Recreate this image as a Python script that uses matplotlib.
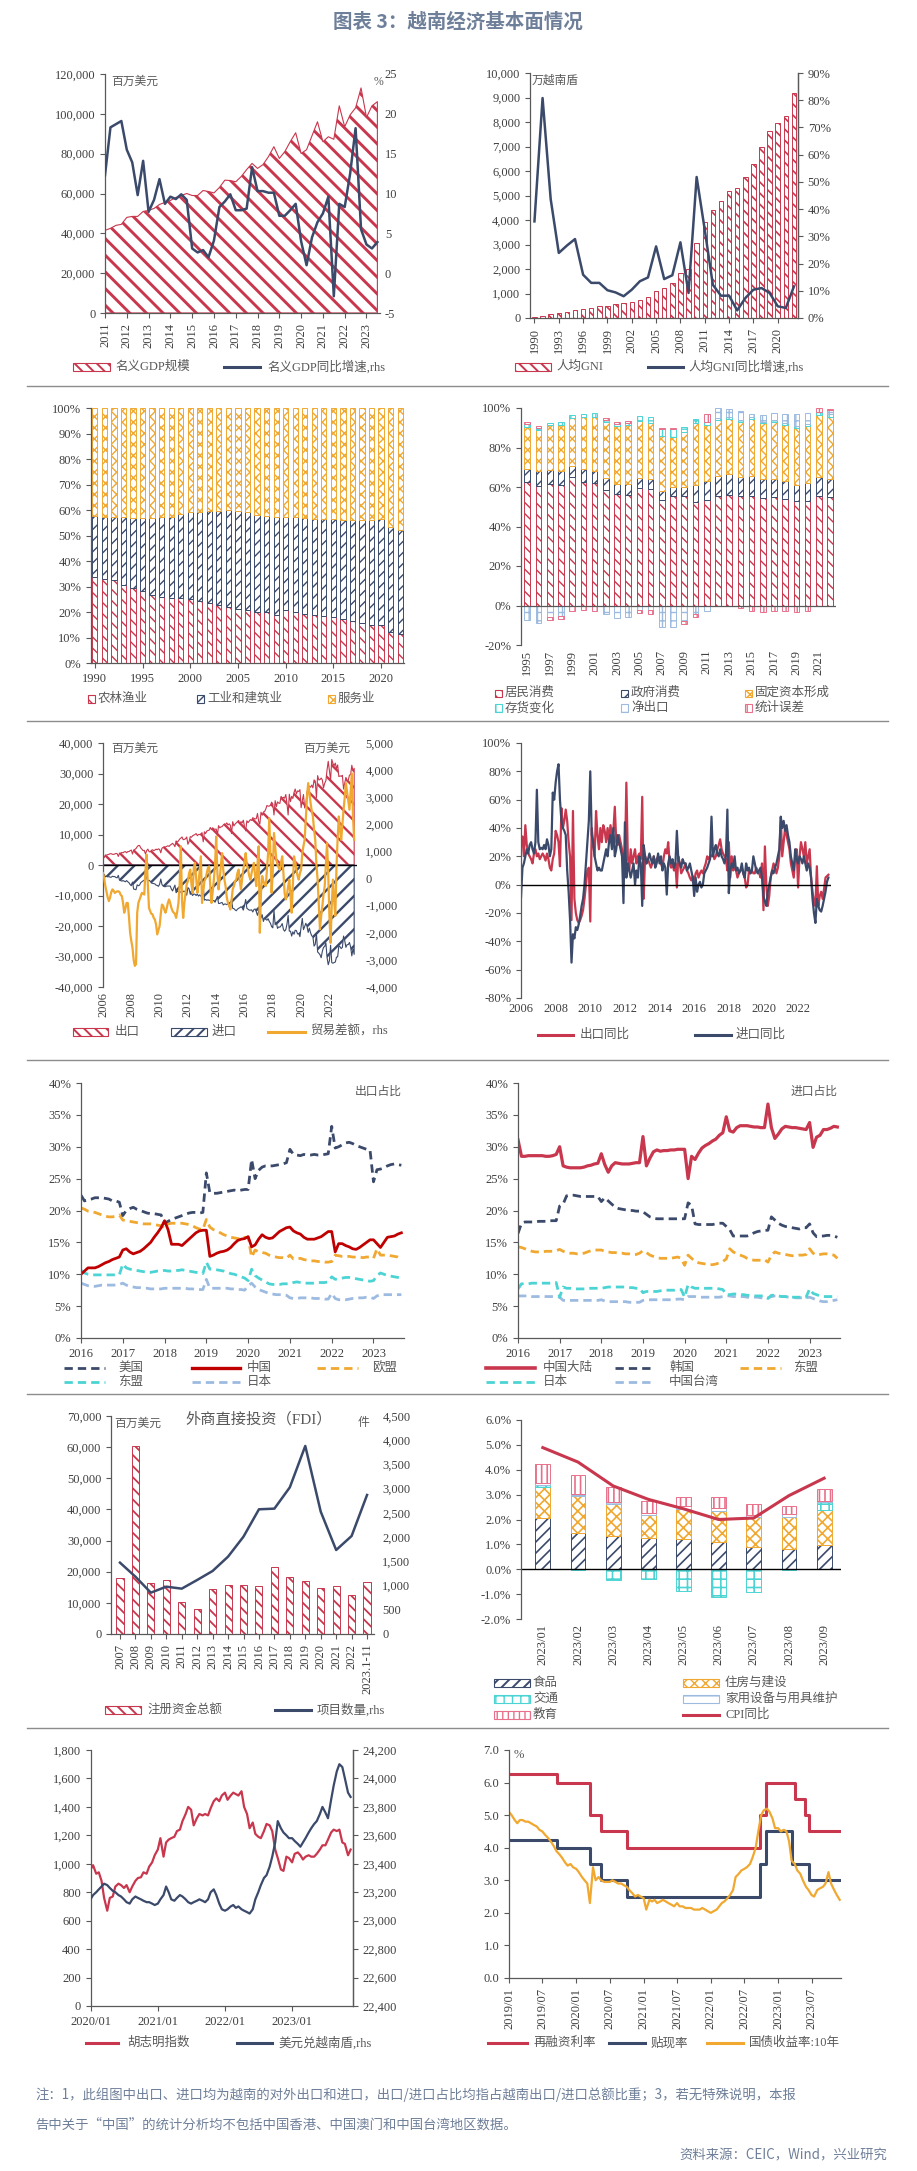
import numpy as np
import pandas as pd
import matplotlib
matplotlib.use('Agg')
import matplotlib.pyplot as plt
import matplotlib.dates as mdates
from matplotlib.patches import Rectangle
from matplotlib.lines import Line2D
from matplotlib.ticker import FuncFormatter

plt.rcParams['font.family'] = ['Liberation Serif', 'Noto Sans CJK SC']
plt.rcParams['axes.unicode_minus'] = False
plt.rcParams['hatch.linewidth'] = 1.1

# ---------------- data ----------------
# nominal GDP (million USD), quarterly 2011Q1-2023Q3
gdp_q = [41500, 42500, 44000, 44500,
         48000, 48500, 48500, 51000,
         51500, 52500, 54500, 55500,
         56500, 58000, 59000, 60000,
         59000, 59000, 61500, 61000,
         60300, 63000, 66700, 66500,
         65900, 68500, 72000, 75100,
         72600, 74500, 78500, 83500,
         77600, 81000, 86000, 90500,
         80100, 82000, 89000, 96000,
         86000, 88500, 87200, 104000,
         93500, 99500, 103000, 113000,
         98200, 104000, 106100]
gdp_yoy = [12.3, 18.3, 18.7, 19.1,
           15.5, 13.9, 9.8, 14.1,
           7.7, 9.2, 11.8, 8.7,
           9.6, 9.3, 9.9, 9.2,
           3.1, 2.6, 2.9, 2.0,
           4.1, 8.3, 9.0, 9.9,
           7.9, 7.9, 8.1, 13.3,
           10.3, 10.3, 10.1, 10.1,
           7.2, 7.2, 7.9, 8.7,
           4.0, 1.0, 4.5, 6.4,
           7.5, 9.6, -2.9, 8.7,
           8.3, 12.5, 18.2, 5.5,
           3.6, 3.1, 3.9]

# GNI per capita 1990-2022
gni = [45, 90, 150, 200, 250, 330, 370, 420, 470, 510,
       560, 600, 650, 740, 870, 1100, 1240, 1410, 1820, 1990,
       3050, 3920, 4420, 4790, 5200, 5320, 5750, 6290, 7000, 7650,
       7970, 8240, 9200]
gni_yoy = [35.5, 80.8, 43.7, 23.9, 26.6, 29.0, 15.9, 12.9, 12.9, 10.2,
           9.4, 8.0, 10.4, 13.5, 14.9, 26.3, 14.3, 15.7, 27.8, 9.2,
           51.8, 32.4, 12.2, 8.2, 8.2, 2.8, 7.3, 10.4, 11.0, 9.2,
           4.3, 3.7, 11.6]

# GDP structure 1990-2022 (%)
agri = [33.7, 32.9, 32.7, 30.7, 29.4, 28.1, 26.8, 25.9, 25.5, 25.5,
        25.1, 24.3, 23.5, 22.9, 22.0, 21.2, 20.7, 20.0, 20.0, 19.0,
        20.7, 20.0, 19.3, 18.9, 18.6, 18.0, 17.3, 16.3, 15.7, 15.0,
        15.0, 12.2, 11.5]
industry = [24.1, 24.4, 24.6, 26.6, 27.3, 28.6, 29.9, 31.4, 31.8, 33.1,
            34.0, 34.8, 36.0, 36.6, 37.9, 38.3, 38.4, 38.2, 37.8, 38.3,
            36.6, 37.3, 37.4, 37.4, 37.7, 38.3, 38.6, 39.6, 40.2, 40.9,
            41.3, 41.1, 40.5]
services = [42.2, 42.7, 42.7, 42.7, 43.3, 43.3, 43.3, 42.7, 42.7, 41.4,
            40.9, 40.9, 40.5, 40.5, 40.1, 40.5, 40.9, 41.8, 42.2, 42.7,
            42.7, 42.7, 43.3, 43.7, 43.7, 43.7, 44.1, 44.1, 44.1, 44.1,
            43.7, 46.7, 48.0]

# GDP by expenditure 1995-2022 (%)
hh_cons = [62.4, 60.7, 61.7, 61.2, 64.9, 62.7, 62.1, 58.7, 56.7, 56.2,
           59.5, 59.0, 53.6, 55.6, 55.6, 52.3, 53.3, 55.3, 56.2, 55.6,
           55.6, 54.5, 54.8, 54.0, 52.8, 52.8, 55.6, 55.0]
gov_cons = [6.7, 7.3, 6.8, 6.8, 5.9, 6.4, 5.9, 5.9, 5.0, 5.5,
            5.1, 5.1, 4.2, 4.4, 4.4, 8.9, 9.6, 10.5, 10.6, 9.5,
            10.2, 9.6, 9.3, 8.9, 8.4, 9.3, 9.5, 9.1]
gfcf = [21.1, 21.0, 23.1, 23.6, 24.1, 26.3, 27.4, 28.1, 29.0, 29.9,
        28.7, 28.3, 27.9, 25.2, 27.7, 31.2, 28.7, 28.0, 27.6, 27.6,
        28.6, 28.3, 28.6, 28.7, 28.7, 28.6, 31.5, 31.3]
inventory = [1.5, 1.0, 1.0, 1.5, 1.5, 1.5, 2.0, 1.0, 1.0, 1.0,
             2.5, 3.0, 3.5, 4.0, 2.5, 2.0, 1.5, 1.0, 1.0, 1.0,
             1.0, 0.5, 1.0, 1.0, 1.0, 1.0, 1.5, 1.5]
net_exp = [-7.3, -9.0, -6.0, -5.5, 0, 0, 0, -4.5, -6.5, -6.0,
           -2.5, -2.5, -11.0, -11.0, -8.0, -4.5, -3.0, 5.0, 4.0, 5.0,
           1.5, 3.5, 4.0, 4.5, 6.0, 6.0, 0, 2.0]
stat_err = [1.3, 1.0, -1.5, -1.5, -3.0, -2.5, -3.0, 1.0, 1.0, 0.8,
            -1.5, -2.0, 0.7, 0.7, -1.5, -1.5, 4.0, -0.5, -0.3, -1.5,
            -3.0, -3.5, -3.0, -3.0, -3.5, -3.0, 2.0, 0.8]

# monthly trade, 2006-01 .. 2023-10 (million USD)
exports = [3100, 2400, 3300, 3200, 3400, 3500, 3700, 3700, 3500, 3500, 3600, 3800,
           3700, 2800, 3900, 3900, 4100, 4000, 4300, 4400, 4000, 4400, 4400, 4700,
           4900, 3600, 4900, 5100, 5400, 6000, 6400, 6400, 5600, 5200, 4700, 4800,
           3600, 4700, 5200, 4400, 4300, 4800, 5000, 4700, 4900, 5200, 5000, 5300,
           5100, 4000, 5500, 5800, 6000, 5900, 6100, 6300, 6100, 6500, 6800, 7100,
           6700, 6000, 7900, 7500, 7900, 8500, 8800, 9200, 8300, 8400, 8600, 9200,
           6800, 7700, 9300, 9100, 9600, 9800, 10000, 10300, 9600, 10000, 10000, 10200,
           10600, 7600, 10900, 10300, 11100, 11300, 11400, 12300, 11600, 12200, 11800, 11700,
           11800, 9800, 12900, 12200, 12500, 12600, 13100, 13500, 13300, 13800, 13100, 13500,
           13000, 10300, 14200, 12800, 13400, 13800, 14200, 14600, 13600, 14200, 13800, 14700,
           12600, 11200, 14500, 13900, 14400, 14900, 14600, 15500, 15300, 15100, 15200, 16900,
           14300, 13400, 17300, 16300, 17400, 17500, 18300, 19500, 19300, 19300, 19600, 20600,
           20000, 16400, 21100, 19100, 20700, 20300, 20200, 22500, 21900, 22200, 21900, 23100,
           20200, 16400, 23200, 20800, 22500, 21800, 23800, 24900, 23300, 24300, 24100, 24700,
           18800, 21100, 23100, 18700, 20100, 23800, 25900, 25800, 25500, 26200, 25300, 27900,
           27500, 22100, 29300, 27900, 28000, 28500, 27900, 25300, 26800, 27600, 31200, 34000,
           30900, 27900, 34600, 33300, 32600, 33400, 31600, 32800, 29000, 29200, 29100, 29400,
           24900, 26900, 28700, 27800, 27800, 29500, 29600, 32700, 30800, 31700]
imports = [-3200, -3100, -3900, -3700, -3900, -3800, -4000, -4000, -3700, -3800, -3800, -4100,
           -4200, -3400, -5000, -5100, -5300, -5100, -5300, -5500, -5100, -5500, -5800, -6400,
           -6800, -5600, -7900, -8000, -8100, -6500, -6800, -6600, -5800, -5500, -5200, -5000,
           -3300, -4200, -5300, -5000, -5300, -5900, -6000, -6100, -6200, -6600, -6700, -7000,
           -6300, -4600, -6400, -6900, -7100, -7100, -6900, -6900, -6900, -6900, -7900, -8500,
           -7500, -6600, -9100, -8500, -8900, -8900, -8800, -9400, -8600, -8600, -8800, -9900,
           -7400, -7800, -9600, -9400, -10000, -9500, -9600, -10000, -9500, -10200, -9800, -10200,
           -10600, -7500, -11500, -11300, -11600, -11400, -11600, -11500, -11600, -11700, -11700, -12200,
           -11400, -10300, -12600, -12600, -12400, -12300, -13100, -12800, -12800, -13000, -12700, -13600,
           -13800, -11200, -14200, -14300, -14700, -15000, -14500, -14200, -14000, -13700, -14000, -14800,
           -13300, -11300, -14200, -14500, -14800, -14800, -14700, -15400, -14600, -14400, -15300, -16500,
           -15200, -13200, -17400, -16300, -18500, -17500, -17800, -18100, -17600, -18500, -19100, -20200,
           -20600, -14900, -19600, -18800, -20800, -20300, -20400, -19900, -19200, -21100, -21700, -21200,
           -19400, -16500, -21700, -21700, -23300, -21900, -22700, -21400, -21500, -22600, -22500, -23500,
           -20300, -17500, -21200, -20200, -19100, -20100, -22100, -20700, -22200, -23200, -23600, -26600,
           -26000, -22400, -28500, -28900, -29400, -30400, -28300, -27000, -26700, -25500, -30300, -32700,
           -31400, -26300, -32000, -32200, -32000, -31800, -30200, -30100, -26500, -26800, -27400, -27000,
           -23300, -24800, -27000, -26100, -26100, -25400, -26900, -29800, -27500, -29300]
balance = [200, 0, -280, -500, -700, -830, -700, -500, -400, -450, -530, -500,
           -470, -470, -500, -600, -650, -900, -1260, -1100, -900, -900, -1400, -2000,
           -2300, -2550, -3000, -3220, -3160, -1260, -900, -770, -650, -530, -560, -590,
           300, 880, -200, -1080, -1200, -1300, -1320, -1450, -1510, -1700, -2060, -1900,
           -1750, -1300, -960, -1000, -1150, -1260, -1100, -900, -770, -900, -1080, -1200,
           -1260, -1300, -1450, -1200, -900, -200, 1190, -800, -1450, -900, -530, -200,
           -100, 200, 330, -200, -530, 400, 580, 0, -530, -200, 300, 820,
           -900, -500, -100, 0, 200, 400, 450, -300, -900, -500, -40, 500,
           1550, 200, -400, 0, 500, 940, 300, -40, -300, -700, -900, -1000,
           -1140, -800, -400, -280, -100, -40, 200, 330, -100, -400, 0, 330,
           600, 940, 500, 330, 100, -40, 200, 400, 580, 100, -280, 500,
           1190, -2000, -500, 90, -100, -200, -280, 300, 940, 2230, 800, -530,
           300, 1680, 1200, 700, 500, 400, 330, 600, 820, 200, -530, -770,
           -600, -300, -40, -600, -1260, -200, 820, 600, 330, 100, -40, 200,
           330, 940, 1200, 1430, 2200, 3000, 3520, 3150, 2800, 2500, 2290, 1800,
           1430, 500, -40, -1000, -1870, -1400, -1020, -600, -280, 500, 1310, 200,
           -1380, -2370, -1000, -40, -800, -1380, 450, 1500, 2290, 1800, 1430, 2000,
           2540, 3000, 3520, 3200, 2900, 2540, 3200, 3880, 2290, 1430]
exp_yoy = [30, 34, 20, 42, 28, 22, 20, 18, 15, 22, 25, 20,
           22, 18, 20, 22, 20, 17, 22, 18, 12, 10, 18, 22,
           38, 35, 30, 13, 54, 40, 45, 53, 45, 30, 20, -25,
           52, -10, -20, -25, -27, -25, -22, -18, -10, 0, 10, 12,
           -26, 40, 30, 20, 52, 35, 25, 40, 30, 42, 38, 30,
           40, 30, 42, 35, 38, 55, 30, 28, 35, 30, 25, 20,
           15, 72, 20, 10, 25, 15, 20, 25, 15, 20, 22, 18,
           62, -10, 20, 15, 18, 15, 12, 15, 20, 14, 18, 20,
           18, 15, 12, 20, 25, 22, 30, 15, 12, 15, 10, 15,
           -2, 20, 15, 8, 10, 12, 15, 10, 8, 5, 3, 6,
           2, 8, 10, 5, 8, 10, 8, 12, 15, 20, 18, 20,
           20, 22, 18, 20, 25, 28, 32, 25, 22, 20, 18, 10,
           30, 5, 20, 10, 12, 10, 5, 8, 10, 12, 8, 5,
           -2, 0, 10, 8, 10, 8, 8, 12, 10, 8, 5, 15,
           -18, 27, 0, -15, -8, 5, 10, 15, 12, 8, 12, 20,
           47, 20, 30, 40, 35, 30, 25, 15, 10, 5, 20, 25,
           -2, 20, 30, 25, 20, 30, 15, 20, 25, 5, -5, -12,
           -15, 13, -15, -8, -5, -10, -3, 5, 6, 7]
imp_yoy = [-9, 12, 15, 20, 25, 22, 28, 30, 25, 22, 30, 67,
           30, 25, 26, 25, 28, 25, 32, 28, 20, 25, 65, 60,
           72, 80, 85, 60, 45, 40, 38, 35, 10, -5, -25, -55,
           -35, -38, -30, -32, -28, -22, -15, -10, 0, 15, 30, 45,
           80, 35, 30, 20, 15, 10, 12, 10, 10, 15, 20, 25,
           20, 30, 35, 25, 40, 20, 25, 35, 30, 25, 20, -13,
           44, 5, 15, 10, 5, 10, 15, 0, 10, 5, 20, 15,
           -15, 28, 20, 15, 18, 22, 18, 15, 20, 12, 15, 22,
           15, 20, 10, 15, 12, -7, 15, 20, 15, 18, 12, 15,
           38, 18, 15, 12, 18, 15, 15, 10, 12, 15, 10, 5,
           -8, 5, -5, 0, 2, -2, 0, 8, 10, 12, 15, 18,
           48, 20, 25, 28, 22, 20, 25, 20, 18, 15, 20, 53,
           -6, 10, 15, 12, 20, 10, 12, 8, 10, 15, 8, 5,
           15, 10, 12, 8, 10, 20, 15, 10, 8, 10, 12, 5,
           -8, -12, -15, -5, 0, 5, 10, 8, 12, 15, 20, 25,
           48, 40, 45, 38, 42, 35, 30, 20, 15, 10, 25, 18,
           15, 20, 18, 15, 20, 15, 10, 15, 12, 5, -10, -20,
           -27, -10, -15, -18, -19, -15, -10, -5, 2, 5]

# export share by destination, monthly 2016-01 .. 2023-09 (%)
exp_us = [22.4, 21.5, 21.7, 21.8, 22.0, 22.0, 22.0, 21.9, 21.8, 21.5, 21.5, 21.3,
          19.2, 20.0, 20.3, 20.5, 20.2, 20.0, 19.8, 19.6, 19.5, 19.5, 19.4, 19.3,
          18.0, 18.3, 18.6, 18.8, 19.0, 19.2, 19.4, 19.6, 19.7, 19.7, 19.6, 19.7,
          25.9, 22.8, 22.7, 22.7, 22.8, 22.9, 23.0, 23.1, 23.2, 23.1, 23.2, 23.3,
          23.3, 28.0, 25.0, 26.3, 26.8, 27.0, 27.0, 27.0, 27.1, 27.2, 27.3, 27.5,
          29.6, 28.8, 28.7, 28.6, 28.8, 28.7, 28.7, 28.8, 28.7, 28.7, 28.8, 28.9,
          33.2, 29.8, 30.0, 30.3, 30.6, 30.7, 30.5, 30.2, 30.0, 29.8, 29.6, 29.5,
          24.5, 26.4, 26.5, 26.7, 27.0, 27.2, 27.3, 27.2, 27.1]
exp_cn = [10.0, 10.5, 11.0, 11.0, 11.0, 11.2, 11.5, 11.8, 12.0, 12.3, 12.5, 12.7,
          13.8, 14.0, 13.5, 13.2, 13.4, 13.6, 14.0, 14.5, 15.0, 15.8, 16.5, 17.3,
          18.4, 17.0, 14.7, 14.7, 14.7, 14.5, 15.0, 15.5, 16.0, 16.5, 16.8, 16.9,
          16.9, 12.8, 13.0, 13.3, 13.5, 13.6, 13.8, 14.2, 14.8, 15.3, 15.5, 15.6,
          15.9, 14.3, 14.6, 15.5, 16.2, 15.8, 15.6, 15.7, 16.2, 16.7, 17.0, 17.3,
          17.4, 16.8, 16.5, 16.3, 15.8, 15.5, 15.5, 15.5, 15.7, 15.9, 16.3, 16.7,
          16.7, 13.5, 14.8, 14.8, 14.5, 14.3, 14.0, 13.9, 14.2, 14.6, 15.0, 15.4,
          15.4, 14.8, 14.2, 15.0, 15.8, 15.9, 16.0, 16.3, 16.5]
exp_eu = [20.4, 20.2, 19.9, 19.8, 19.7, 19.5, 19.3, 19.1, 19.0, 19.0, 19.1, 19.3,
          18.5, 18.4, 18.3, 18.2, 18.1, 18.0, 17.9, 17.9, 17.9, 17.8, 17.7, 17.6,
          17.3, 17.9, 18.0, 18.0, 18.0, 18.0, 17.9, 17.8, 17.6, 17.3, 17.1, 17.0,
          18.6, 17.4, 17.0, 16.8, 16.5, 16.2, 16.0, 15.8, 15.7, 15.6, 15.5, 15.8,
          15.8, 12.7, 13.8, 13.5, 13.4, 13.3, 13.0, 12.8, 12.7, 12.6, 12.6, 12.5,
          13.0, 12.4, 12.4, 12.5, 12.3, 12.2, 12.1, 12.1, 12.0, 12.0, 11.9, 11.9,
          12.0, 13.0, 12.9, 12.8, 12.8, 12.8, 12.7, 12.7, 12.7, 12.6, 12.7, 12.7,
          12.5, 14.0, 13.0, 13.0, 13.0, 12.9, 12.8, 12.7, 12.4]
exp_asean = [10.6, 10.2, 10.0, 9.9, 9.9, 9.9, 9.9, 9.9, 9.9, 9.9, 9.9, 9.9,
             11.6, 11.0, 10.8, 10.7, 10.6, 10.5, 10.4, 10.3, 10.3, 10.4, 10.5, 10.5,
             10.6, 10.5, 10.5, 10.6, 10.6, 10.7, 10.6, 10.5, 10.4, 10.3, 10.2, 10.1,
             11.9, 10.8, 10.8, 10.7, 10.6, 10.5, 10.3, 10.1, 10.0, 9.8, 9.6, 9.4,
             9.0, 10.8, 9.8, 9.4, 9.1, 8.8, 8.5, 8.4, 8.4, 8.4, 8.5, 8.5,
             8.5, 8.7, 8.8, 8.7, 8.6, 8.6, 8.6, 8.6, 8.7, 8.7, 8.7, 8.8,
             9.6, 9.2, 9.3, 9.4, 9.5, 9.5, 9.4, 9.3, 9.2, 9.1, 9.0, 8.9,
             9.0, 9.8, 10.2, 10.0, 9.8, 9.7, 9.6, 9.5, 9.4]
exp_jp = [8.6, 8.4, 8.2, 8.1, 8.1, 8.2, 8.3, 8.3, 8.3, 8.3, 8.3, 8.4,
          8.6, 8.3, 8.1, 8.0, 7.9, 7.9, 7.8, 7.8, 7.7, 7.7, 7.7, 7.7,
          7.8, 7.8, 7.8, 7.8, 7.8, 7.8, 7.8, 7.7, 7.7, 7.6, 7.6, 7.6,
          9.2, 7.8, 7.8, 7.8, 7.8, 7.8, 7.8, 7.7, 7.7, 7.6, 7.6, 7.5,
          8.2, 8.6, 8.0, 7.6, 7.4, 7.2, 7.0, 6.9, 6.8, 6.8, 6.8, 6.7,
          6.3, 6.2, 6.2, 6.3, 6.3, 6.3, 6.3, 6.2, 6.2, 6.2, 6.1, 6.1,
          7.0, 6.2, 6.0, 6.0, 6.0, 6.1, 6.2, 6.2, 6.3, 6.3, 6.4, 6.4,
          6.2, 6.6, 6.8, 6.8, 6.8, 6.8, 6.8, 6.8, 6.8]

# import share by origin, monthly 2016-01 .. 2023-09 (%)
imp_cn = [31.1, 28.5, 28.5, 28.6, 28.6, 28.6, 28.6, 28.6, 28.5, 28.5, 28.6, 28.8,
          30.0, 27.0, 26.8, 26.7, 26.7, 26.7, 26.7, 26.8, 27.0, 27.1, 27.3, 27.4,
          28.9, 27.2, 26.0, 27.0, 27.5, 27.4, 27.3, 27.3, 27.3, 27.4, 27.5, 27.5,
          31.6, 27.0, 28.2, 29.2, 29.5, 29.3, 29.4, 29.4, 29.5, 29.5, 29.6, 29.6,
          29.6, 25.0, 28.5, 28.0, 29.0, 29.8, 30.2, 30.5, 30.9, 31.2, 31.8, 32.2,
          34.7, 32.5, 32.3, 33.0, 33.3, 33.3, 33.3, 33.2, 33.1, 33.1, 33.0, 33.0,
          36.7, 33.0, 31.3, 32.0, 32.8, 33.2, 33.1, 33.0, 33.0, 32.9, 32.8, 32.7,
          33.8, 29.9, 31.5, 31.8, 32.7, 32.7, 32.9, 33.2, 33.1]
imp_kr = [16.4, 18.0, 18.2, 18.2, 18.2, 18.2, 18.3, 18.3, 18.3, 18.4, 18.4, 18.4,
          20.7, 21.0, 22.3, 22.4, 22.4, 22.3, 22.2, 22.2, 22.2, 22.2, 22.2, 22.2,
          21.4, 22.0, 21.5, 21.0, 20.5, 20.3, 20.2, 20.1, 20.0, 20.0, 19.9, 19.9,
          19.8, 19.4, 19.0, 18.8, 18.7, 18.7, 18.7, 18.7, 18.7, 18.7, 18.7, 18.7,
          18.7, 21.2, 20.8, 17.9, 17.8, 17.8, 17.8, 17.8, 17.8, 17.9, 18.0, 18.0,
          17.5, 17.0, 16.0, 16.0, 16.0, 16.0, 16.0, 16.2, 16.5, 16.7, 16.8, 16.9,
          16.9, 19.0, 18.5, 18.0, 17.7, 17.5, 17.4, 17.3, 17.2, 17.1, 17.3, 17.3,
          17.9, 16.5, 15.9, 16.0, 16.0, 16.1, 16.1, 16.0, 15.8]
imp_asean = [14.3, 14.2, 14.0, 13.8, 13.6, 13.5, 13.5, 13.5, 13.6, 13.6, 13.6, 13.7,
             13.9, 13.6, 13.4, 13.3, 13.3, 13.2, 13.2, 13.3, 13.5, 13.7, 13.8, 13.8,
             13.8, 13.6, 13.5, 13.4, 13.4, 13.3, 13.3, 13.2, 13.2, 13.1, 13.1, 13.3,
             13.7, 13.4, 13.0, 12.8, 12.6, 12.5, 12.5, 12.5, 12.5, 12.6, 12.7, 12.5,
             11.4, 13.0, 12.5, 12.0, 11.8, 11.7, 11.6, 11.5, 11.5, 11.6, 11.8, 12.0,
             12.4, 14.0, 13.5, 13.2, 13.0, 12.8, 12.5, 12.3, 12.2, 12.2, 12.2, 12.3,
             11.9, 13.0, 13.5, 13.3, 13.2, 13.1, 13.0, 12.9, 12.9, 13.0, 13.0, 13.1,
             14.0, 13.3, 13.0, 13.1, 13.2, 13.2, 13.1, 13.0, 12.5]
imp_jp = [7.7, 8.5, 8.5, 8.5, 8.6, 8.6, 8.6, 8.6, 8.6, 8.6, 8.7, 8.7,
          6.4, 8.0, 7.8, 7.8, 7.7, 7.7, 7.7, 7.7, 7.7, 7.8, 7.8, 7.8,
          7.8, 7.9, 8.0, 8.0, 8.0, 8.0, 8.0, 8.0, 7.9, 7.9, 7.8, 7.8,
          7.1, 7.3, 7.3, 7.3, 7.3, 7.4, 7.5, 7.5, 7.5, 7.5, 7.6, 7.6,
          6.4, 8.4, 8.0, 7.8, 7.8, 7.8, 7.8, 7.8, 7.8, 7.8, 7.7, 7.6,
          6.8, 6.8, 6.9, 6.9, 6.8, 6.8, 6.7, 6.7, 6.6, 6.6, 6.6, 6.6,
          6.2, 6.7, 6.7, 6.6, 6.5, 6.5, 6.4, 6.4, 6.4, 6.4, 6.4, 6.4,
          7.7, 7.0, 6.8, 6.6, 6.5, 6.5, 6.5, 6.5, 6.5]
imp_tw = [6.6, 6.6, 6.6, 6.6, 6.5, 6.5, 6.5, 6.5, 6.5, 6.5, 6.5, 6.5,
          6.4, 5.9, 5.9, 5.9, 5.9, 5.9, 5.9, 5.9, 5.9, 5.9, 5.9, 5.9,
          6.0, 5.8, 5.7, 5.7, 5.7, 5.7, 5.7, 5.7, 5.6, 5.6, 5.6, 5.6,
          5.9, 6.0, 6.0, 6.0, 6.0, 6.0, 6.0, 6.0, 6.0, 6.0, 6.1, 6.1,
          6.0, 6.5, 6.5, 6.5, 6.4, 6.4, 6.4, 6.4, 6.4, 6.4, 6.4, 6.5,
          6.6, 6.6, 6.5, 6.5, 6.5, 6.5, 6.4, 6.4, 6.4, 6.4, 6.3, 6.3,
          6.3, 6.5, 6.6, 6.6, 6.5, 6.5, 6.4, 6.4, 6.3, 6.3, 6.3, 6.3,
          6.4, 6.2, 6.0, 5.8, 5.7, 5.7, 5.8, 5.9, 6.0]

# FDI
fdi_labels = ['2007', '2008', '2009', '2010', '2011', '2012', '2013', '2014', '2015',
              '2016', '2017', '2018', '2019', '2020', '2021', '2022', '2023.1-11']
fdi_capital = [17900, 60400, 16500, 17200, 10200, 7900, 14300, 15800, 15800,
               15400, 21600, 18400, 16900, 14700, 15400, 12600, 16600]
fdi_projects = [1473, 1184, 853, 977, 936, 1115, 1301, 1597, 2010,
                2574, 2588, 3028, 3882, 2526, 1734, 2023, 2870]

# CPI contributions 2023/01-2023/09 (ppt)
cpi_months = ['2023/01', '2023/02', '2023/03', '2023/04', '2023/05',
              '2023/06', '2023/07', '2023/08', '2023/09']
cpi_food = [2.05, 1.47, 1.34, 1.24, 1.20, 1.11, 0.91, 0.80, 0.98]
cpi_housing = [1.27, 1.49, 1.27, 0.94, 1.21, 1.24, 1.20, 1.31, 1.40]
cpi_transport = [0.05, -0.05, -0.45, -0.38, -0.88, -1.10, -0.92, -0.03, 0.33]
cpi_household = [0.10, 0.07, 0.08, 0.10, 0.12, 0.10, 0.08, 0.10, 0.05]
cpi_education = [0.76, 0.75, 0.63, 0.45, 0.39, 0.44, 0.42, 0.35, 0.45]
cpi_yoy = [4.89, 4.31, 3.35, 2.81, 2.43, 2.00, 2.06, 2.96, 3.66]

# VN-Index and USD/VND, semi-monthly from 2020-01-01
vn_index = [960, 990, 930, 940, 880, 760, 670, 760, 770, 840, 860, 850,
            830, 850, 800, 840, 880, 900, 905, 940, 930, 980, 1010, 1060,
            1100, 1180, 1050, 1150, 1170, 1180, 1190, 1230, 1240, 1300, 1350, 1400,
            1380, 1270, 1320, 1350, 1340, 1350, 1340, 1390, 1440, 1460, 1440, 1480,
            1500, 1450, 1480, 1500, 1490, 1480, 1510, 1400, 1350, 1250, 1290, 1210,
            1190, 1180, 1230, 1280, 1270, 1230, 1100, 1040, 960, 950, 1050, 1040,
            1010, 1070, 1080, 1060, 1030, 1050, 1060, 1050, 1050, 1070, 1100, 1130,
            1130, 1170, 1220, 1240, 1230, 1240, 1150, 1140, 1060, 1100]
usd_vnd = [23150, 23180, 23200, 23220, 23240, 23260, 23250, 23230, 23210, 23200, 23180, 23170,
           23150, 23130, 23120, 23150, 23170, 23160, 23150, 23140, 23130, 23130, 23120, 23110,
           23120, 23150, 23180, 23240, 23200, 23150, 23140, 23160, 23180, 23170, 23150, 23130,
           23120, 23130, 23140, 23150, 23140, 23130, 23150, 23200, 23220, 23180, 23120, 23080,
           23070, 23080, 23100, 23110, 23090, 23100, 23080, 23070, 23060, 23050, 23080, 23150,
           23200, 23250, 23300, 23320, 23380, 23450, 23550, 23700, 23650, 23620, 23600, 23580,
           23580, 23560, 23540, 23520, 23550, 23580, 23620, 23650, 23680, 23700, 23750, 23800,
           23760, 23720, 23850, 23950, 24050, 24100, 24080, 24000, 23900, 23870]

# policy rates (%) and 10Y government bond yield, semi-monthly from 2019-01-01
refi_dates = ['2019-01-01', '2019-09-16', '2020-03-17', '2020-05-13', '2020-10-01',
              '2022-09-23', '2022-10-25', '2023-04-03', '2023-05-25', '2023-06-19', '2023-12-08']
refi_rate = [6.25, 6.0, 5.0, 4.5, 4.0, 5.0, 6.0, 5.5, 5.0, 4.5, 4.5]
disc_dates = ['2019-01-01', '2019-09-16', '2020-03-17', '2020-05-13', '2020-10-01',
              '2022-09-23', '2022-10-25', '2023-03-15', '2023-06-19', '2023-12-08']
disc_rate = [4.25, 4.0, 3.5, 3.0, 2.5, 3.5, 4.5, 3.5, 3.0, 3.0]
gb10y = [5.10, 5.00, 4.85, 4.75, 4.85, 4.85, 4.80, 4.80, 4.75, 4.70, 4.65, 4.55,
         4.50, 4.40, 4.30, 4.20, 4.05, 3.90, 3.80, 3.70, 3.55, 3.45, 3.50, 3.40,
         3.35, 3.25, 3.10, 3.00, 2.90, 2.30, 3.40, 3.00, 3.10, 3.00, 2.95, 2.95,
         2.95, 3.00, 2.95, 2.90, 2.90, 2.85, 2.80, 2.70, 2.60, 2.50, 2.55, 2.50,
         2.45, 2.10, 2.40, 2.35, 2.40, 2.30, 2.35, 2.40, 2.35, 2.30, 2.25, 2.20,
         2.30, 2.20, 2.20, 2.15, 2.15, 2.15, 2.10, 2.10, 2.10, 2.15, 2.10, 2.05,
         2.00, 2.05, 2.10, 2.20, 2.30, 2.35, 2.45, 2.55, 2.70, 3.10, 3.20, 3.30,
         3.35, 3.40, 3.50, 3.70, 4.00, 4.50, 5.00, 5.15, 5.20, 5.10, 4.90, 4.60,
         4.60, 4.50, 4.55, 4.50, 4.20, 3.60, 3.50, 3.30, 3.20, 3.00, 2.80, 2.70,
         2.55, 2.50, 2.70, 2.75, 2.80, 2.90, 3.25, 2.90, 2.70, 2.55, 2.40]

# ---------------- styling ----------------
W, H = 917, 2171
RED = '#C8374D'
DRED = '#C00000'
NAVY = '#3B4A6B'
ORANGE = '#F0A830'
CYAN = '#4CD4D4'
LBLUE = '#9DBBE0'
PINK = '#E9708A'
TXT = '#404040'
GRAY = '#595959'
NOTE = '#6E7F99'
CJK = ['Noto Sans CJK SC', 'DejaVu Sans']

fig = plt.figure(figsize=(W / 100, H / 100), dpi=100)


def fx(x):
    return x / W


def fy(y):
    return 1 - y / H


def add_ax(l, t, r, b):
    return fig.add_axes([fx(l), fy(b), (r - l) / W, (b - t) / H])


def style(ax, left=True, bottom=True, right=False):
    for s in ['top', 'right', 'left', 'bottom']:
        ax.spines[s].set_visible(False)
        ax.spines[s].set_color(GRAY)
        ax.spines[s].set_linewidth(0.9)
    ax.spines['left'].set_visible(left)
    ax.spines['bottom'].set_visible(bottom)
    ax.spines['right'].set_visible(right)
    ax.tick_params(colors=GRAY, labelcolor=TXT, labelsize=9, length=3.5, width=0.8)
    ax.patch.set_visible(False)


def hatch_lw(artists, lw):
    for a in artists:
        if hasattr(a, 'set_hatch_linewidth'):
            a.set_hatch_linewidth(lw)


def stack_bars(ax, xi, series, width, hlw=1.0):
    pos = np.zeros(len(xi))
    neg = np.zeros(len(xi))
    for vals, ec, hatch in series:
        v = np.asarray(vals, dtype=float)
        base = np.where(v >= 0, pos, neg)
        m = v != 0
        plt.rcParams['hatch.linewidth'] = hlw
        bars = ax.bar(xi[m], v[m], width=width, bottom=base[m], facecolor='white',
                      edgecolor=ec, hatch=hatch, lw=0.7)
        hatch_lw(bars.patches, hlw)
        pos = pos + np.clip(v, 0, None)
        neg = neg + np.clip(v, None, 0)


def leg_box(x0, x1, y, ec, hatch, h=8, hlw=1.0):
    plt.rcParams['hatch.linewidth'] = hlw
    r = Rectangle((fx(x0), fy(y + h / 2)), (x1 - x0) / W, h / H, transform=fig.transFigure,
                  facecolor='white', edgecolor=ec, hatch=hatch, lw=0.8)
    hatch_lw([r], hlw)
    fig.add_artist(r)


def leg_line(x0, x1, y, c, ls='-', lw=2.2):
    fig.add_artist(Line2D([fx(x0), fx(x1)], [fy(y), fy(y)], transform=fig.transFigure,
                          color=c, ls=ls, lw=lw))


def leg_text(x, y, s, size=9):
    fig.text(fx(x), fy(y), s, ha='left', va='center', fontsize=size, color=GRAY)


def in_text(x, y, s, ha='left', size=9):
    fig.text(fx(x), fy(y), s, ha=ha, va='center', fontsize=size, color=GRAY)


comma = FuncFormatter(lambda v, p: f'{v:,.0f}')
pct0 = FuncFormatter(lambda v, p: f'{v:.0f}%')
pct1 = FuncFormatter(lambda v, p: f'{v:.1f}%')
dash = (0, (3, 1.8))

# title
fig.text(fx(458), fy(22), '图表 3：越南经济基本面情况', ha='center', va='center',
         fontsize=14, fontweight='bold', color=NOTE, family=CJK)

# row separators
for ys in [386, 721, 1060, 1394, 1728]:
    fig.add_artist(Line2D([fx(27), fx(888)], [fy(ys), fy(ys)], transform=fig.transFigure,
                          color='#8C8C8C', lw=1))

# ---- 1L: nominal GDP ----
ax = add_ax(105, 74, 380, 313)
style(ax)
xq = 2011 + np.arange(len(gdp_q)) / 4
plt.rcParams['hatch.linewidth'] = 2.1
area = ax.fill_between(xq, 0, gdp_q, facecolor='white', edgecolor=RED, hatch='\\\\', lw=0.8)
hatch_lw([area], 2.1)
ax.set_xlim(2011, 2023.62)
ax.set_ylim(0, 120000)
ax.set_yticks(range(0, 120001, 20000))
ax.yaxis.set_major_formatter(comma)
ax.set_xticks(range(2011, 2024))
ax.set_xticklabels([str(y) for y in range(2011, 2024)], rotation=90)
ax2 = ax.twinx()
style(ax2, left=False, bottom=False)
ax2.plot(xq, gdp_yoy, color=NAVY, lw=1.8)
ax2.set_ylim(-5, 25)
ax2.set_yticks(range(-5, 26, 5))
ax2.tick_params(axis='y', length=0)
in_text(111, 82, '百万美元', size=8.5)
in_text(383, 82, '%', ha='right', size=8.5)
leg_box(73, 110, 367, RED, '\\\\\\', hlw=1.4)
leg_text(115, 367, '名义GDP规模')
leg_line(224, 260, 367, NAVY)
leg_text(267, 367, '名义GDP同比增速,rhs')

# ---- 1R: GNI per capita ----
ax = add_ax(530, 73, 798, 318)
style(ax, right=True)
xi = np.arange(len(gni))
plt.rcParams['hatch.linewidth'] = 1.2
bars = ax.bar(xi, gni, width=0.55, facecolor='white', edgecolor=RED, hatch='\\\\\\', lw=0.7)
hatch_lw(bars.patches, 1.2)
ax.set_xlim(-0.55, len(gni) - 0.5)
ax.set_ylim(0, 10000)
ax.set_yticks(range(0, 10001, 1000))
ax.yaxis.set_major_formatter(comma)
ax.set_xticks(xi[::3])
ax.set_xticklabels([str(1990 + i) for i in xi[::3]], rotation=90)
ax2 = ax.twinx()
style(ax2, left=False, bottom=False, right=True)
ax2.plot(xi, gni_yoy, color=NAVY, lw=1.8)
ax2.set_ylim(0, 90)
ax2.set_yticks(range(0, 91, 10))
ax2.yaxis.set_major_formatter(pct0)
in_text(532, 81, '万越南盾', size=8.5)
leg_box(515, 551, 367, RED, '\\\\\\', hlw=1.4)
leg_text(556, 367, '人均GNI')
leg_line(648, 683, 367, NAVY)
leg_text(688, 367, '人均GNI同比增速,rhs')

# ---- 2L: GDP structure ----
ax = add_ax(91, 408, 404, 663)
style(ax)
xi = np.arange(len(agri))
stack_bars(ax, xi, [(agri, RED, '\\\\\\'), (industry, NAVY, '///'), (services, ORANGE, 'xxx')],
           0.55, hlw=1.0)
ax.set_xlim(-0.4, len(agri) - 0.6)
ax.set_ylim(0, 100)
ax.set_yticks(range(0, 101, 10))
ax.yaxis.set_major_formatter(pct0)
ax.set_xticks(xi[::5])
ax.set_xticklabels([str(1990 + i) for i in xi[::5]])
for x0, ec, h, lab in [(88, RED, '\\\\\\', '农林渔业'), (197, NAVY, '///', '工业和建筑业'),
                       (328, ORANGE, 'xxx', '服务业')]:
    leg_box(x0, x0 + 7, 699, ec, h, h=7)
    leg_text(x0 + 10, 699, lab)

# ---- 2R: GDP by expenditure ----
ax = add_ax(521, 408, 836, 645)
style(ax, bottom=False)
xi = np.arange(len(hh_cons))
stack_bars(ax, xi, [(hh_cons, RED, '\\\\\\'), (gov_cons, NAVY, '///'), (gfcf, ORANGE, 'xxx'),
                    (inventory, CYAN, '++'), (net_exp, LBLUE, '++'), (stat_err, PINK, '|||')],
           0.5, hlw=1.0)
ax.axhline(0, color=GRAY, lw=0.9)
ax.set_xlim(-0.56, len(hh_cons) - 0.47)
ax.set_ylim(-20, 100)
ax.set_yticks(range(-20, 101, 20))
ax.yaxis.set_major_formatter(pct0)
ax.set_xticks(xi[::2])
ax.set_xticklabels([str(1995 + i) for i in xi[::2]], rotation=90)
ax.tick_params(axis='x', length=0)
for x0, y0, ec, h, lab in [(495, 693, RED, '\\\\\\', '居民消费'), (621, 693, NAVY, '///', '政府消费'),
                           (745, 693, ORANGE, 'xxx', '固定资本形成'),
                           (495, 708, CYAN, '++', '存货变化'), (621, 708, LBLUE, '++', '净出口'),
                           (745, 708, PINK, '|||', '统计误差')]:
    leg_box(x0, x0 + 7, y0, ec, h, h=7)
    leg_text(x0 + 10, y0, lab)

# ---- 3L: exports / imports / balance ----
ax = add_ax(103, 743, 357, 987)
style(ax, bottom=False)
xm = 2006 + np.arange(len(exports)) / 12
plt.rcParams['hatch.linewidth'] = 1.7
a1 = ax.fill_between(xm, 0, exports, facecolor='white', edgecolor=RED, hatch='\\\\', lw=0.8)
a2 = ax.fill_between(xm, 0, imports, facecolor='white', edgecolor=NAVY, hatch='//', lw=0.8)
hatch_lw([a1, a2], 1.7)
ax.axhline(0, color='black', lw=1)
ax.set_xlim(2006, 2023.95)
ax.set_ylim(-40000, 40000)
ax.set_yticks(range(-40000, 40001, 10000))
ax.yaxis.set_major_formatter(comma)
ax.set_xticks(range(2006, 2023, 2))
ax.set_xticklabels([str(y) for y in range(2006, 2023, 2)], rotation=90)
ax.tick_params(axis='x', length=0)
ax2 = ax.twinx()
style(ax2, left=False, bottom=False)
ax2.plot(xm, balance, color=ORANGE, lw=1.6)
ax2.set_ylim(-4000, 5000)
ax2.set_yticks(range(-4000, 5001, 1000))
ax2.yaxis.set_major_formatter(comma)
ax2.tick_params(axis='y', length=0, pad=6)
in_text(111, 749, '百万美元', size=8.5)
in_text(350, 749, '百万美元', ha='right', size=8.5)
leg_box(73, 108, 1032, RED, '\\\\\\', hlw=1.4)
leg_text(115, 1032, '出口')
leg_box(171, 207, 1032, NAVY, '///', hlw=1.4)
leg_text(212, 1032, '进口')
leg_line(268, 305, 1032, ORANGE)
leg_text(310, 1032, '贸易差额，rhs')

# ---- 3R: export / import yoy ----
ax = add_ax(521, 743, 831, 998)
style(ax, bottom=False)
ax.plot(xm, exp_yoy, color=RED, lw=1.6)
ax.plot(xm, imp_yoy, color=NAVY, lw=1.6)
ax.axhline(0, color='black', lw=1)
ax.set_xlim(2006, 2023.9)
ax.set_ylim(-80, 100)
ax.set_yticks(range(-80, 101, 20))
ax.yaxis.set_major_formatter(pct0)
ax.set_xticks(range(2006, 2023, 2))
ax.set_xticklabels([str(y) for y in range(2006, 2023, 2)])
ax.tick_params(axis='x', length=0)
leg_line(538, 573, 1035, RED)
leg_text(580, 1035, '出口同比')
leg_line(695, 731, 1035, NAVY)
leg_text(736, 1035, '进口同比')

# ---- 4L: export share ----
ax = add_ax(81, 1083, 404, 1338)
style(ax)
x4 = 2016 + np.arange(len(exp_us)) / 12
ax.plot(x4, exp_jp, color=LBLUE, lw=2, ls=dash)
ax.plot(x4, exp_asean, color=CYAN, lw=2, ls=dash)
ax.plot(x4, exp_eu, color=ORANGE, lw=2, ls=dash)
ax.plot(x4, exp_us, color=NAVY, lw=2, ls=dash)
ax.plot(x4, exp_cn, color=DRED, lw=2)
ax.set_xlim(2016, 2023.73)
ax.set_ylim(0, 40)
ax.set_yticks(range(0, 41, 5))
ax.yaxis.set_major_formatter(pct0)
ax.set_xticks(range(2016, 2024))
ax.set_xticklabels([str(y) for y in range(2016, 2024)])
in_text(402, 1092, '出口占比', ha='right', size=8.5)
leg_line(64, 105, 1368, NAVY, dash, 2)
leg_text(118, 1368, '美国')
leg_line(192, 240, 1368, DRED, '-', 2.4)
leg_text(247, 1368, '中国')
leg_line(317, 358, 1368, ORANGE, dash, 2)
leg_text(372, 1368, '欧盟')
leg_line(64, 105, 1382, CYAN, dash, 2)
leg_text(118, 1382, '东盟')
leg_line(192, 240, 1382, LBLUE, dash, 2)
leg_text(247, 1382, '日本')

# ---- 4R: import share ----
ax = add_ax(518, 1083, 840, 1338)
style(ax)
ax.plot(x4, imp_tw, color=LBLUE, lw=2, ls=dash)
ax.plot(x4, imp_jp, color=CYAN, lw=2, ls=dash)
ax.plot(x4, imp_asean, color=ORANGE, lw=2, ls=dash)
ax.plot(x4, imp_kr, color=NAVY, lw=2, ls=dash)
ax.plot(x4, imp_cn, color=RED, lw=2.3)
ax.set_xlim(2016, 2023.73)
ax.set_ylim(0, 40)
ax.set_yticks(range(0, 41, 5))
ax.yaxis.set_major_formatter(pct0)
ax.set_xticks(range(2016, 2024))
ax.set_xticklabels([str(y) for y in range(2016, 2024)])
in_text(838, 1092, '进口占比', ha='right', size=8.5)
leg_line(486, 535, 1368, RED, '-', 2.6)
leg_text(543, 1368, '中国大陆')
leg_line(615, 654, 1368, NAVY, dash, 2)
leg_text(669, 1368, '韩国')
leg_line(740, 781, 1368, ORANGE, dash, 2)
leg_text(793, 1368, '东盟')
leg_line(486, 535, 1382, CYAN, dash, 2)
leg_text(543, 1382, '日本')
leg_line(615, 654, 1382, LBLUE, dash, 2)
leg_text(669, 1382, '中国台湾')

# ---- 5L: FDI ----
ax = add_ax(111, 1416, 374, 1634)
style(ax)
xi = np.arange(len(fdi_capital))
plt.rcParams['hatch.linewidth'] = 1.3
bars = ax.bar(xi, fdi_capital, width=0.46, facecolor='white', edgecolor=RED, hatch='\\\\\\', lw=0.7)
hatch_lw(bars.patches, 1.3)
ax.set_xlim(-0.58, len(fdi_capital) - 0.55)
ax.set_ylim(0, 70000)
ax.set_yticks(range(0, 70001, 10000))
ax.yaxis.set_major_formatter(comma)
ax.set_xticks(xi)
ax.set_xticklabels(fdi_labels, rotation=90)
ax2 = ax.twinx()
style(ax2, left=False, bottom=False)
ax2.plot(xi, fdi_projects, color=NAVY, lw=1.8)
ax2.set_ylim(0, 4500)
ax2.set_yticks(range(0, 4501, 500))
ax2.yaxis.set_major_formatter(comma)
ax2.tick_params(axis='y', length=0, pad=6)
in_text(114, 1424, '百万美元', size=8.5)
in_text(185, 1419, '外商直接投资（FDI）', size=11)
in_text(358, 1423, '件', size=8.5)
leg_box(105, 141, 1710, RED, '\\\\\\', hlw=1.4)
leg_text(148, 1710, '注册资金总额')
leg_line(275, 311, 1710, NAVY)
leg_text(317, 1710, '项目数量,rhs')

# ---- 5R: CPI contributions ----
ax = add_ax(521, 1420, 841, 1619)
style(ax, bottom=False)
xi = np.arange(len(cpi_food))
stack_bars(ax, xi, [(cpi_food, NAVY, '///'), (cpi_housing, ORANGE, 'xxx'),
                    (cpi_transport, CYAN, '++'), (cpi_household, LBLUE, '--'),
                    (cpi_education, PINK, '|||')], 0.42, hlw=1.2)
ax.plot(xi, cpi_yoy, color=RED, lw=2.2)
ax.axhline(0, color='black', lw=1)
ax.set_xlim(-0.62, len(cpi_food) - 0.52)
ax.set_ylim(-2, 6)
ax.set_yticks(range(-2, 7))
ax.yaxis.set_major_formatter(pct1)
ax.set_xticks(xi)
ax.set_xticklabels(cpi_months, rotation=90)
ax.tick_params(axis='x', length=0)
leg_box(494, 530, 1683, NAVY, '///', hlw=1.4)
leg_text(533, 1683, '食品')
leg_box(683, 719, 1683, ORANGE, 'xxx')
leg_text(725, 1683, '住房与建设')
leg_box(494, 530, 1699, CYAN, '++')
leg_text(533, 1699, '交通')
leg_box(683, 719, 1699, LBLUE, '--')
leg_text(725, 1699, '家用设备与用具维护')
leg_box(494, 530, 1715, PINK, '|||')
leg_text(533, 1715, '教育')
leg_line(683, 719, 1715, RED)
leg_text(725, 1715, 'CPI同比')

# ---- 6L: VN-Index and USD/VND ----
ax = add_ax(90.5, 1750, 353, 2006)
style(ax, right=True)
d6 = mdates.date2num(pd.date_range('2020-01-01', periods=len(vn_index), freq='SMS'))
ax.plot(d6, vn_index, color=RED, lw=1.6)
ax.set_xlim(mdates.date2num(pd.Timestamp('2020-01-01')), mdates.date2num(pd.Timestamp('2023-11-28')))
ax.set_ylim(0, 1800)
ax.set_yticks(range(0, 1801, 200))
ax.yaxis.set_major_formatter(comma)
yt = [mdates.date2num(pd.Timestamp(f'{y}-01-01')) for y in range(2020, 2024)]
ax.set_xticks(yt)
ax.set_xticklabels([f'{y}/01' for y in range(2020, 2024)])
ax2 = ax.twinx()
style(ax2, left=False, bottom=False, right=True)
ax2.plot(d6, usd_vnd, color=NAVY, lw=1.6)
ax2.set_ylim(22400, 24200)
ax2.set_yticks(range(22400, 24201, 200))
ax2.yaxis.set_major_formatter(comma)
leg_line(86, 118, 2043, RED)
leg_text(127, 2043, '胡志明指数')
leg_line(237, 272, 2043, NAVY)
leg_text(278, 2043, '美元兑越南盾,rhs')

# ---- 6R: rates ----
ax = add_ax(509, 1750, 841, 1978)
style(ax)
ax.step(mdates.date2num(pd.to_datetime(refi_dates)), refi_rate, where='post', color=RED, lw=2.2)
ax.step(mdates.date2num(pd.to_datetime(disc_dates)), disc_rate, where='post', color=NAVY, lw=2.2)
dy = mdates.date2num(pd.date_range('2019-01-01', periods=len(gb10y), freq='SMS'))
ax.plot(dy, gb10y, color=ORANGE, lw=1.6)
ax.set_xlim(mdates.date2num(pd.Timestamp('2019-01-01')), mdates.date2num(pd.Timestamp('2023-12-08')))
ax.set_ylim(0, 7)
ax.set_yticks(range(0, 8))
ax.yaxis.set_major_formatter(FuncFormatter(lambda v, p: f'{v:.1f}'))
ht = pd.date_range('2019-01-01', '2023-07-01', freq='6MS')
ax.set_xticks(mdates.date2num(ht))
ax.set_xticklabels([d.strftime('%Y/%m') for d in ht], rotation=90)
in_text(514, 1755, '%', size=9)
leg_line(488, 527, 2043, RED)
leg_text(533, 2043, '再融资利率')
leg_line(609, 645, 2043, NAVY)
leg_text(651, 2043, '贴现率')
leg_line(707, 743, 2043, ORANGE)
leg_text(749, 2043, '国债收益率:10年')

# ---- notes ----
fig.text(fx(35), fy(2095), '注：1，此组图中出口、进口均为越南的对外出口和进口，出口/进口占比均指占越南出口/进口总额比重；3，若无特殊说明，本报',
         ha='left', va='center', fontsize=9.6, color=NOTE, family=CJK)
fig.text(fx(35), fy(2125), '告中关于“中国”的统计分析均不包括中国香港、中国澳门和中国台湾地区数据。',
         ha='left', va='center', fontsize=9.6, color=NOTE, family=CJK)
fig.text(fx(887), fy(2155), '资料来源：CEIC，Wind，兴业研究', ha='right', va='center',
         fontsize=9.6, color=NOTE, family=CJK)

fig.savefig('out.png', dpi=100)
